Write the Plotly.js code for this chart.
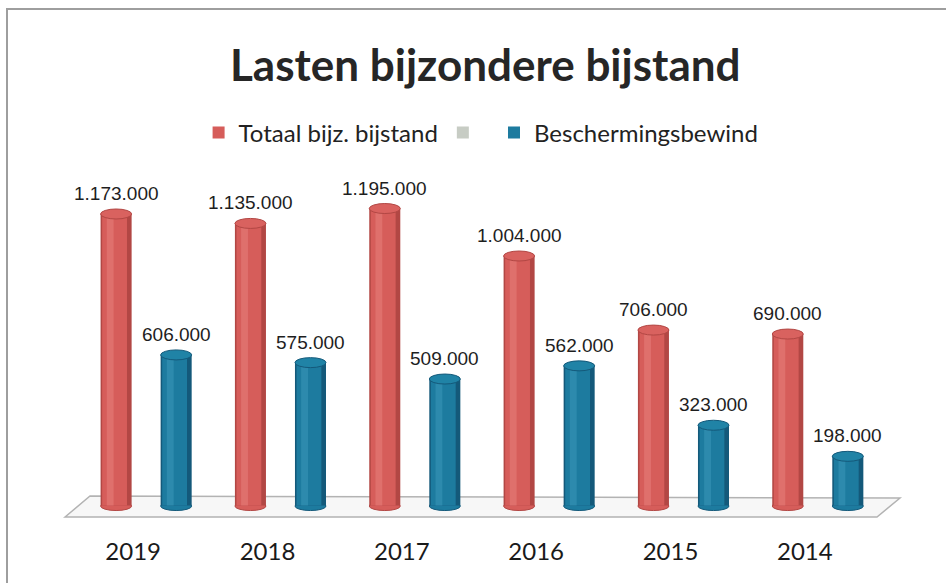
<!DOCTYPE html>
<html>
<head>
<meta charset="utf-8">
<script src="https://cdn.plot.ly/plotly-3.0.1.min.js"></script>
<style>
  html, body { margin: 0; padding: 0; background: #fff; }
  #chart { width: 946px; height: 583px; }
</style>
</head>
<body>
<div id="chart"></div>
<script>
var years = ['2019', '2018', '2017', '2016', '2015', '2014'],
	totaal = [1173000, 1135000, 1195000, 1004000, 706000, 690000],
	bewind = [606000, 575000, 509000, 562000, 323000, 198000],
	seriesNames = ['Totaal bijz. bijstand', 'Beschermingsbewind'];

// bar geometry in category units
var W = 0.231,
	redC = -0.127,
	blueC = 0.32;

var red = { edge: '#b24744', body: '#d65d5a', light: '#e8807c', cap: '#d9625f' },
	blue = { edge: '#14597a', body: '#1d7b9f', light: '#3a97b8', cap: '#2083a6' };

function cylinder(vals, c, col, name, rank) {
	return [
		{ type: 'bar', x: years, y: vals, width: W, offset: c - W / 2,
			marker: { color: col.edge }, showlegend: false, hoverinfo: 'skip' },
		{ type: 'bar', x: years, y: vals, width: W * 0.8, offset: c - W * 0.45,
			marker: { color: col.body }, name: name, legendrank: rank, hoverinfo: 'y' },
		{ type: 'bar', x: years, y: vals, width: W * 0.22, offset: c - W * 0.3,
			marker: { color: col.light, opacity: 0.55 }, showlegend: false, hoverinfo: 'skip' }
	];
}

var traces = []
	.concat(cylinder(totaal, redC, red, seriesNames[0], 1))
	.concat([{ type: 'bar', x: [years[0]], y: [0], width: 0.01, name: ' ', legendrank: 2,
		marker: { color: '#c7ccc4' }, hoverinfo: 'skip' }])
	.concat(cylinder(bewind, blueC, blue, seriesNames[1], 3));

var shapes = [
	// outer frame
	{ type: 'rect', xref: 'paper', yref: 'paper', x0: -0.0732, x1: 1.2, y0: -0.6, y1: 1.4694,
		line: { color: '#9e9e9e', width: 2 }, fillcolor: 'rgba(0,0,0,0)', layer: 'below' },
	// floor
	{ type: 'path', xref: 'paper', yref: 'paper', layer: 'below',
		path: 'M -0.0012 -0.0117 L 0.0298 0.0496 L 1.0347 0.0437 L 1.0062 -0.0117 Z',
		fillcolor: '#f7f7f7', line: { color: '#b3b3b3', width: 1.5 } }
];

function caps(vals, c, col) {
	vals.forEach(function (v, i) {
		shapes.push({ type: 'circle', xref: 'x', yref: 'y', ysizemode: 'pixel', yanchor: 0,
			x0: i + c - W / 2, x1: i + c + W / 2, y0: -5, y1: 4,
			fillcolor: col.body, line: { color: col.edge, width: 1 }, layer: 'below' });
		shapes.push({ type: 'circle', xref: 'x', yref: 'y', ysizemode: 'pixel', yanchor: v,
			x0: i + c - W / 2, x1: i + c + W / 2, y0: -5, y1: 5,
			fillcolor: col.cap, line: { color: col.edge, width: 1 }, layer: 'above' });
	});
}
caps(totaal, redC, red);
caps(bewind, blueC, blue);

var annotations = [];
function labels(vals, c) {
	vals.forEach(function (v, i) {
		annotations.push({ x: i + c, y: v, xref: 'x', yref: 'y', showarrow: false,
			yanchor: 'bottom', yshift: 8,
			text: v.toLocaleString('nl-NL'),
			font: { family: 'Liberation Sans, Arial, sans-serif', size: 19, color: '#1e1e1e' } });
	});
}
labels(totaal, redC);
labels(bewind, blueC);

var layout = {
	width: 946,
	height: 583,
	margin: { l: 66, r: 74, t: 170, b: 70 },
	paper_bgcolor: '#ffffff',
	plot_bgcolor: 'rgba(0,0,0,0)',
	barmode: 'overlay',
	separators: ',.',
	title: {
		text: '<b>Lasten bijzondere bijstand</b>',
		font: { family: 'Lato, Open Sans, sans-serif', size: 44, color: '#262626' },
		x: 0.513, xanchor: 'center', y: 1 - 66 / 583, yanchor: 'middle', yref: 'container'
	},
	legend: {
		orientation: 'h', x: 0.515, xanchor: 'center', y: 1 - 133 / 583, yanchor: 'middle',
		yref: 'container', traceorder: 'normal',
		font: { family: 'Lato, Open Sans, sans-serif', size: 24, color: '#222' }
	},
	xaxis: {
		type: 'category', range: [-0.5, 5.5], showgrid: false, zeroline: false, showline: false,
		ticks: '', ticklabelstandoff: 22,
		tickfont: { family: 'Lato, Open Sans, sans-serif', size: 24, color: '#1a1a1a' }
	},
	yaxis: {
		range: [-30000, 1350000], visible: false, showgrid: false, zeroline: false
	},
	shapes: shapes,
	annotations: annotations,
	showlegend: true
};

Plotly.newPlot('chart', traces, layout, { displayModeBar: false, staticPlot: true });
</script>
</body>
</html>
